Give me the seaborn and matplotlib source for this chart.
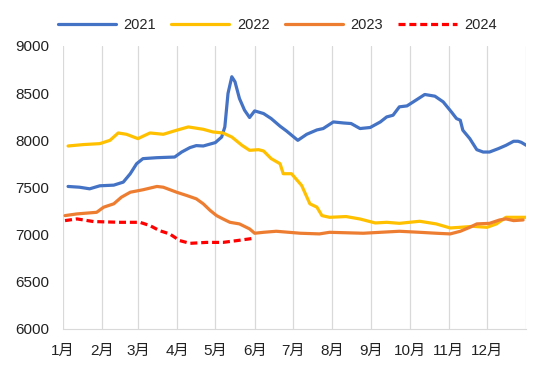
import numpy as np
import pandas as pd
import matplotlib
matplotlib.use('Agg')
import matplotlib.pyplot as plt
import seaborn as sns

# dias do ano (0 = 1 jan) e valores
dias_2021 = [4, 13, 21, 29, 40, 47.5, 53, 58, 63, 74, 88, 93.5, 100, 105, 110.5, 120, 125, 127.5,
             130, 133, 135.5, 139, 143, 147, 151, 158, 164, 171, 176, 185, 192, 200, 205, 213,
             221, 227, 234, 242, 250, 255, 260, 265, 271, 276, 285, 293, 299.5, 306, 310, 313,
             315, 320.5, 326, 331, 336, 343, 349, 355, 358.5, 361, 365]
valores_2021 = [7511, 7503, 7486, 7518, 7525, 7557, 7646, 7752, 7806, 7816, 7823, 7876, 7923, 7944,
                7940, 7976, 8035, 8142, 8497, 8674, 8621, 8444, 8320, 8242, 8312, 8284, 8231, 8150,
                8100, 8000, 8064, 8110, 8125, 8195, 8184, 8178, 8125, 8136, 8195, 8248, 8266, 8355,
                8365, 8408, 8486, 8468, 8408, 8301, 8231, 8213, 8107, 8018, 7901, 7876, 7876, 7912,
                7947, 7990, 7990, 7979, 7947]

dias_2022 = [4, 16, 29, 37, 43.5, 50, 59, 68.5, 79, 89.5, 98.7, 110.5, 118, 126, 133, 141, 147, 154,
             158, 164, 171, 173.5, 180, 188, 194.5, 200, 204, 210, 223, 234, 246, 255, 265, 281,
             294, 305, 313, 323, 334, 341.5, 349, 365]
valores_2022 = [7940, 7955, 7965, 8000, 8078, 8064, 8018, 8078, 8064, 8107, 8142, 8117, 8089, 8078,
                8035, 7947, 7894, 7901, 7887, 7806, 7752, 7646, 7646, 7522, 7327, 7292, 7202, 7184,
                7192, 7166, 7124, 7131, 7120, 7142, 7114, 7071, 7078, 7088, 7078, 7114, 7184, 7184]

dias_2023 = [1.6, 11, 26.5, 32, 40, 46, 53, 63, 74, 79, 89.5, 97.5, 105, 110.5, 116, 121, 126, 131.5,
             139, 147, 151, 158, 168, 187, 202, 210, 236.5, 250, 265, 281, 294, 305, 313, 320.5,
             326, 336, 344, 349, 355, 362.5]
valores_2023 = [7202, 7220, 7237, 7291, 7327, 7397, 7450, 7476, 7511, 7503, 7450, 7415, 7380, 7327,
                7256, 7202, 7167, 7131, 7114, 7061, 7015, 7025, 7036, 7015, 7008, 7025, 7015, 7025,
                7036, 7025, 7015, 7008, 7036, 7078, 7114, 7120, 7156, 7167, 7149, 7156]

dias_2024 = [1.6, 11, 24, 45, 60.6, 68.5, 76, 84, 92, 100, 113, 126, 137, 150]
valores_2024 = [7149, 7167, 7139, 7131, 7131, 7096, 7043, 7008, 6937, 6908, 6918, 6918, 6937, 6961]

meses = ['1月', '2月', '3月', '4月', '5月', '6月', '7月', '8月', '9月', '10月', '11月', '12月']
inicio_meses = [0, 31, 59, 90, 120, 151, 181, 212, 243, 273, 304, 334]

series = [('2021', dias_2021, valores_2021, '#4472C4', '-'),
          ('2022', dias_2022, valores_2022, '#FFC000', '-'),
          ('2023', dias_2023, valores_2023, '#ED7D31', '-'),
          ('2024', dias_2024, valores_2024, '#FF0000', '--')]

sns.set_style('white')
plt.rcParams['font.family'] = ['Liberation Sans', 'Noto Sans CJK SC', 'DejaVu Sans']

fig = plt.figure(figsize=(5.54, 3.68), dpi=100)
ax = fig.add_axes([0.1137, 0.106, 0.8363, 0.769])

for nome, dias, valores, cor, estilo in series:
    df = pd.DataFrame({'dia': dias, 'valor': valores})
    sns.lineplot(data=df, x='dia', y='valor', ax=ax, color=cor, linewidth=2.3,
                 linestyle=estilo, label=nome)
ax.lines[-1].set_dashes([2.2, 1.2])

ax.set_xlim(0, 365)
ax.set_ylim(6000, 9000)
ax.set_xticks(inicio_meses + [365])
ax.set_xticklabels(meses + [''], fontsize=11, color='#222222')
ax.set_yticks(np.arange(6000, 9001, 500))
ax.set_yticklabels([str(v) for v in range(6000, 9001, 500)], fontsize=11, color='#222222')
ax.tick_params(axis='y', length=0, pad=10)
ax.tick_params(axis='x', length=0, pad=11)
ax.xaxis.grid(True, color='#d9d9d9', linewidth=0.9)
ax.yaxis.grid(False)
ax.set_xlabel('')
ax.set_ylabel('')
for lado in ['top', 'right', 'left']:
    ax.spines[lado].set_visible(False)
ax.spines['bottom'].set_color('#d9d9d9')

ax.legend(loc='center', bbox_to_anchor=(0.462, 1.074), ncol=4, frameon=False, fontsize=10.5,
          handlelength=4, columnspacing=1.05, handletextpad=0.5)

fig.savefig('out.png', dpi=100)
